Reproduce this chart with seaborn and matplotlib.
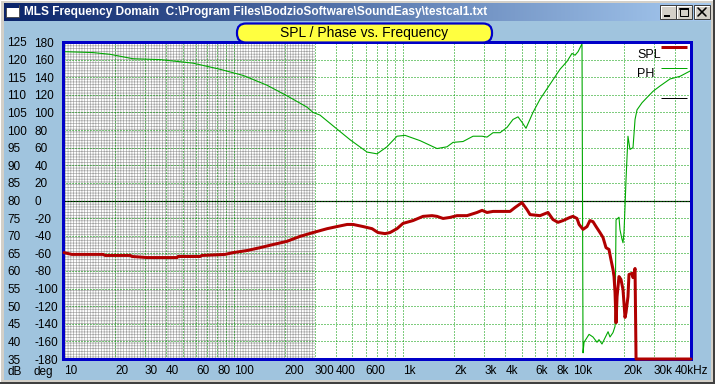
import numpy as np
import pandas as pd
import matplotlib
matplotlib.use("Agg")
import matplotlib.pyplot as plt
import seaborn as sns
from matplotlib.patches import Rectangle, FancyBboxPatch
from matplotlib.ticker import LogLocator, NullFormatter, FixedLocator
from matplotlib.colors import LinearSegmentedColormap

# ---------------- data ----------------
ph_freq = [10.1, 14.8, 18.7, 25.5, 36.8, 57.6, 83.2, 114, 157, 206, 271, 294, 323, 396, 486,
           612, 701, 802, 919, 1025, 1256, 1582, 1813, 1966, 2253, 2581, 2917, 3120, 3385,
           3724, 4094, 4437, 4753, 5012, 5297, 5823, 6407, 8405, 9245, 9888, 10310, 10740,
           11330, 11490, 11650, 12470, 13150, 13890, 14270, 14860, 15490, 16140, 16570,
           17260, 17740, 17990, 18720, 18970, 19500, 19770, 20040, 20320, 20600, 21150,
           21730, 22650, 23280, 23920, 25590, 27400, 29720, 32660, 37410, 42860, 49100]
ph_deg = [169, 168, 166, 161, 160, 156, 149, 142, 131, 119, 106, 100, 97, 83, 69,
          55, 53, 61, 73, 74, 68, 59, 61, 66, 67, 73, 73, 72, 77,
          77, 83, 92, 95, 89, 82, 100, 115, 149, 158, 167, 165, 169,
          178, -173, -161, -152, -155, -161, -158, -163, -156, -149, -155,
          -150, -143, -22, -19, -33, -44, -48, -36, -7, 24, 73,
          58, 60, 92, 103, 111, 117, 124, 130, 138, 141, 147]

spl_freq = [10, 11.1, 17.0, 17.5, 24.5, 25.2, 30.9, 46.4, 47.0, 63.4, 65.1, 89.0, 99.2, 120,
            143, 171, 206, 246, 294, 356, 407, 467, 506, 580, 655, 710, 781, 836, 919, 997,
            1142, 1309, 1479, 1582, 1718, 1888, 2076, 2378, 2723, 2917, 3120, 3385, 3724,
            4266, 4561, 5012, 5370, 5597, 6407, 7143, 7638, 8180, 8750, 9620, 10020, 10590,
            10890, 11490, 12130, 12620, 13150, 13710, 14460, 15070, 15700, 16340, 16790,
            17260, 17500, 17740, 17990, 18240, 18720, 19230, 19770, 20320, 20600, 21150,
            21440, 22340, 22650, 23280, 23600, 49770]
spl_db = [65.2, 64.7, 64.7, 64.4, 64.4, 64.1, 63.8, 63.8, 64.1, 64.1, 64.4, 64.7, 65.2, 65.8,
          66.6, 67.5, 68.4, 69.8, 70.9, 72.0, 72.6, 73.2, 73.2, 72.6, 72.0, 70.9, 70.6, 70.9,
          72.0, 73.5, 74.3, 75.5, 75.7, 75.5, 74.9, 75.2, 75.7, 75.7, 76.6, 77.2, 76.6, 76.9,
          76.9, 76.9, 78.0, 79.4, 77.4, 76.0, 75.7, 76.6, 74.6, 73.8, 74.3, 75.2, 75.5, 74.9,
          73.2, 71.8, 72.6, 74.3, 74.0, 72.6, 70.9, 69.5, 66.6, 66.1, 63.2,
          60.4, 58.4, 53.9, 45.3, 52.7, 58.4, 57.6, 54.7, 46.8, 48.2, 52.7,
          59.0, 59.3, 58.1, 60.7, 35.0, 35.0]

x_tick_vals = [10, 20, 30, 40, 60, 80, 100, 200, 300, 400, 600, 1000, 2000, 3000, 4000,
               6000, 8000, 10000, 20000, 30000, 40000]
x_tick_labels = ["10", "20", "30", "40", "60", "80", "100", "200", "300", "400", "600",
                 "1k", "2k", "3k", "4k", "6k", "8k", "10k", "20k", "30k", "40kHz"]
db_ticks = list(range(35, 130, 5))
deg_ticks = list(range(-180, 181, 20))

# ---------------- style ----------------
sns.set_theme(style="white")
plt.rcParams["font.family"] = ["Liberation Sans", "DejaVu Sans"]
plt.rcParams["hatch.linewidth"] = 0.45
plt.rcParams["hatch.color"] = "#a2a2a2"

W, H = 715, 384
PX = 0.72  # one pixel in points at dpi 100
GREEN_GRID = "#009a00"
GREEN = "#00a800"
RED = "#b00000"
BLUE = "#0000c8"
BODY = "#a0c4de"

fig = plt.figure(figsize=(W / 100, H / 100), dpi=100)
fig.patch.set_facecolor("#d4d0c8")

# ---------- window chrome (background layer, pixel coords) ----------
bg = fig.add_axes([0, 0, 1, 1], zorder=-5)
bg.set_xlim(0, W)
bg.set_ylim(H, 0)
bg.axis("off")
bg.add_patch(Rectangle((0, 0), W, H, fc="#d4d0c8", ec="none"))
bg.add_patch(Rectangle((0, 0), W - 1, H - 1, fc="none", ec="#ffffff", lw=PX))
bg.add_patch(Rectangle((4, 21), W - 8, H - 25, fc=BODY, ec="none"))
bg.add_patch(Rectangle((0, H - 2), W, 2, fc="#404040", ec="none"))
bg.add_patch(Rectangle((W - 2, 0), 2, H, fc="#404040", ec="none"))
grad = np.linspace(0, 1, 256).reshape(1, -1)
cmap = LinearSegmentedColormap.from_list("tb", ["#0a246a", "#a6caf0"])
bg.imshow(grad, cmap=cmap, aspect="auto", extent=[4, W - 4, 21, 3], zorder=1)
bg.set_xlim(0, W)
bg.set_ylim(H, 0)

# ---------- main plot ----------
ax = fig.add_axes([63 / W, 1 - 359 / H, 628 / W, 317 / H])
ax.set_facecolor("white")
ax.set_xscale("log")
XMIN, XMAX = 9.86, 49770
ax.set_xlim(XMIN, XMAX)
ax.set_ylim(35, 125)

ax.axvspan(XMIN, 300, facecolor="white", hatch="++++++", edgecolor="#a2a2a2",
           lw=0, zorder=0.5)

ax.xaxis.set_major_locator(FixedLocator(x_tick_vals))
ax.xaxis.set_minor_locator(LogLocator(base=10, subs=np.arange(1, 10), numticks=20))
ax.xaxis.set_minor_formatter(NullFormatter())
ax.set_xticks(x_tick_vals, x_tick_labels)
ax.set_yticks(db_ticks, [str(v) for v in db_ticks])
ax.grid(which="both", axis="x", color=GREEN_GRID, lw=PX, linestyle=(0, (1, 2)), zorder=1)
ax.grid(which="major", axis="y", color=GREEN_GRID, lw=PX, linestyle=(0, (1, 2)), zorder=1)
ax.set_axisbelow(False)
ax.axhline(80, color="black", lw=PX * 1.2, zorder=2)

ph_df = pd.DataFrame({"f": ph_freq, "v": [80 + d / 4 for d in ph_deg]})
spl_df = pd.DataFrame({"f": spl_freq, "v": spl_db})
sns.lineplot(data=ph_df, x="f", y="v", sort=False, estimator=None, color=GREEN,
             lw=PX * 1.1, ax=ax, zorder=3)
sns.lineplot(data=spl_df, x="f", y="v", sort=False, estimator=None, color=RED,
             lw=PX * 3, ax=ax, zorder=6, clip_on=False)
ax.set_xlabel("")
ax.set_ylabel("")

for s in ax.spines.values():
    s.set_color(BLUE)
    s.set_linewidth(PX * 3)
    s.set_zorder(5)

ax.tick_params(axis="x", which="both", length=0, pad=4.5, labelsize=8.5, colors="black")
for lbl in ax.get_xticklabels():
    lbl.set_ha("left")
ax.tick_params(axis="y", which="both", length=0, pad=40.0, labelsize=8.5, colors="black")
for lbl in ax.get_yticklabels():
    lbl.set_ha("left")

sec = ax.secondary_yaxis("left", functions=(lambda d: (d - 80) * 4, lambda p: p / 4 + 80))
sec.set_yticks(deg_ticks, [str(v) for v in deg_ticks])
sec.tick_params(length=0, pad=20.5, labelsize=8.5, colors="black")
for lbl in sec.get_yticklabels():
    lbl.set_ha("left")
sec.spines["left"].set_visible(False)

# ---------- overlay (title box, legend, axis unit labels, title bar text) ----------
ov = fig.add_axes([0, 0, 1, 1], zorder=10)
ov.set_xlim(0, W)
ov.set_ylim(H, 0)
ov.axis("off")
ov.patch.set_alpha(0)

ov.add_patch(FancyBboxPatch((237, 23.5), 255, 19, boxstyle="round,pad=0,rounding_size=9",
                            fc="#ffff40", ec=BLUE, lw=PX * 2.2))
ov.text(364.5, 33.5, "SPL / Phase vs. Frequency", ha="center", va="center",
        fontsize=10, color="black")

ov.text(637, 55, "SPL", ha="left", va="center", fontsize=9, color="black")
ov.plot([661, 687], [47, 47], color=RED, lw=PX * 3, solid_capstyle="butt")
ov.text(637, 74, "PH", ha="left", va="center", fontsize=9, color="black")
ov.plot([661, 687], [68, 68], color=GREEN, lw=PX, solid_capstyle="butt")
ov.plot([661, 687], [98, 98], color="black", lw=PX, solid_capstyle="butt")

ov.text(8, 372, "dB", ha="left", va="center", fontsize=8.5, color="black")
ov.text(34, 372, "deg", ha="left", va="center", fontsize=8.5, color="black")

# title bar contents
ov.add_patch(Rectangle((6, 5), 13, 12, fc="white", ec="#404040", lw=PX * 0.8))
ov.add_patch(Rectangle((6, 5), 13, 3, fc="#0a246a", ec="none"))
ov.text(24, 12.5, "MLS Frequency Domain  C:\\Program Files\\BodzioSoftware\\SoundEasy\\testcal1.txt",
        ha="left", va="center", fontsize=8.6, fontweight="bold", color="white")
for bx in (660, 676, 694):
    ov.add_patch(Rectangle((bx, 5), 16, 14, fc="#d4d0c8", ec="#404040", lw=PX))
    ov.plot([bx + 0.5, bx + 15], [5.5, 5.5], color="white", lw=PX)
    ov.plot([bx + 0.5, bx + 0.5], [5.5, 18], color="white", lw=PX)
ov.plot([664, 670], [15.5, 15.5], color="black", lw=PX * 2, solid_capstyle="butt")
ov.add_patch(Rectangle((680, 8), 8, 8, fc="none", ec="black", lw=PX))
ov.plot([680, 688], [8.5, 8.5], color="black", lw=PX * 2)
ov.plot([698, 706], [8, 16], color="black", lw=PX * 1.6)
ov.plot([698, 706], [16, 8], color="black", lw=PX * 1.6)

fig.savefig("out.png", dpi=100, facecolor=fig.get_facecolor())
